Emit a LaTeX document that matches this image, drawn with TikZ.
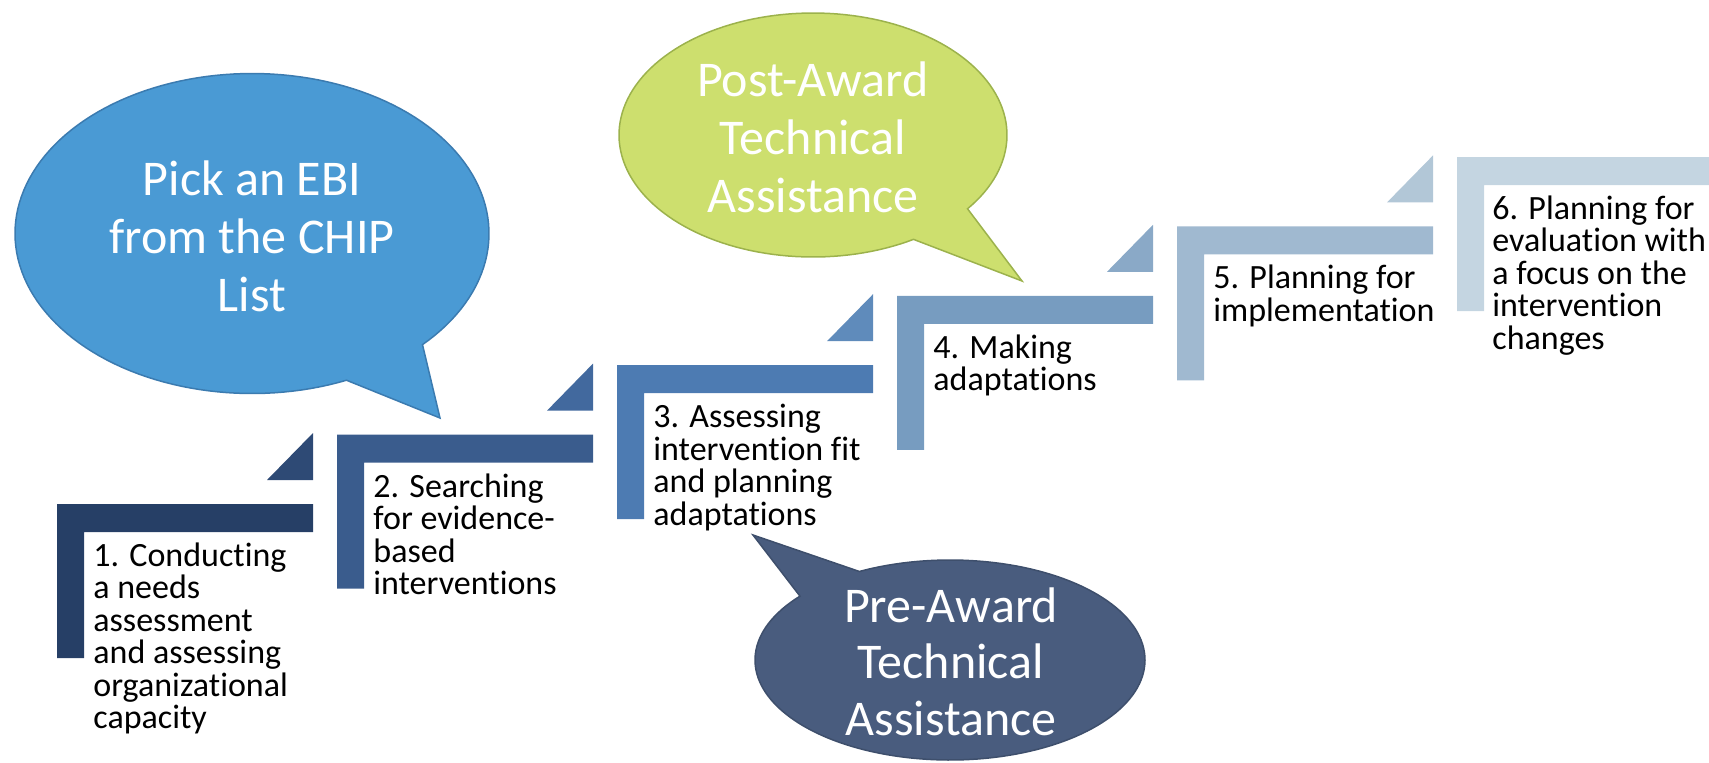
\documentclass[tikz,border=0pt]{standalone}
\usepackage{fontspec}
\setmainfont{Carlito}[Ligatures={NoCommon,NoContextual}]
\definecolor{s1}{HTML}{263F66}
\definecolor{t1}{HTML}{2E4A75}
\definecolor{s2}{HTML}{3A5C8D}
\definecolor{t2}{HTML}{42699E}
\definecolor{s3}{HTML}{4D7BB2}
\definecolor{t3}{HTML}{5F8BBB}
\definecolor{s4}{HTML}{779CC0}
\definecolor{t4}{HTML}{8AA9C7}
\definecolor{s5}{HTML}{A0B9D0}
\definecolor{t5}{HTML}{B2C7D7}
\definecolor{s6}{HTML}{C4D5E1}
\definecolor{bluefill}{HTML}{4A9AD4}
\definecolor{blueline}{HTML}{3B7BB0}
\definecolor{greenfill}{HTML}{CDDF6E}
\definecolor{greenline}{HTML}{9CB24C}
\definecolor{darkfill}{HTML}{495C7E}
\definecolor{darkline}{HTML}{3E4F6C}
\begin{document}
\begin{tikzpicture}[x=0.5pt,y=-0.5pt,
  steptext/.style={anchor=north west, inner sep=0pt, align=left, text=black,
    font=\fontsize{17pt}{16.25pt}\selectfont},
  bubtext/.style={anchor=north, inner sep=0pt, align=center, text=white,
    font=\fontsize{25pt}{29pt}\selectfont},
  bubble/.style={line width=0.75pt, line join=miter}]
\useasboundingbox (0,0) rectangle (1709,762);
\begin{scope}
\clip (0,0) rectangle (1709,762);
% steps
\foreach \i/\sc/\tc in {0/s1/t1,1/s2/t2,2/s3/t3,3/s4/t4,4/s5/t5,5/s6/t6} {
  \pgfmathsetmacro\L{57+280*\i}
  \pgfmathsetmacro\T{504-69.4*\i}
  \fill[\sc] (\L,\T) -- ++(256,0) -- ++(0,28) -- ++(-229,0) -- ++(0,126) -- ++(-27,0) -- cycle;
  \ifnum\i<5
    \fill[\tc] (\L+256,\T-24) -- ++(0,-47) -- ++(-46,47) -- cycle;
  \fi
}
% bubbles
\draw[bubble, fill=bluefill, draw=blueline]
  plot[domain=66.5:404, samples=150, variable=\t] ({252+237*cos(\t)},{233.5+160*sin(\t)}) -- (440,418) -- cycle;
\draw[bubble, fill=greenfill, draw=greenline]
  plot[domain=58.8:397.2, samples=150, variable=\t] ({813+194*cos(\t)},{135+122*sin(\t)}) -- (1022,281) -- cycle;
\draw[bubble, fill=darkfill, draw=darkline]
  plot[domain=242.3:579.7, samples=150, variable=\t] ({950+195*cos(\t)},{660+100*sin(\t)}) -- (753,535) -- cycle;
\end{scope}
% step texts
\node[steptext] (st1) at (93,538.8) {\rule{0pt}{13.6pt}1. Conducting\\a needs\\assessment\\and assessing\\organizational\\capacity};
\node[steptext] (st2) at (373,469.4) {\rule{0pt}{13.6pt}2. Searching\\for evidence-\\based\\interventions};
\node[steptext] (st3) at (653,400) {\rule{0pt}{13.6pt}3. Assessing\\intervention fit\\and planning\\adaptations};
\node[steptext] (st4) at (933,330.6) {\rule{0pt}{13.6pt}4. Making\\adaptations};
\node[steptext] (st5) at (1213,261.2) {\rule{0pt}{13.6pt}5. Planning for\\implementation};
\node[steptext] (st6) at (1492,191.8) {\rule{0pt}{13.6pt}6. Planning for\\evaluation with\\a focus on the\\intervention\\changes};
% bubble texts
\node[bubtext] (b1) at (252,155) {\rule{0pt}{20pt}Pick an EBI\\from the CHIP\\List};
\node[bubtext] (b2) at (813,56) {\rule{0pt}{20pt}Post-Award\\Technical\\Assistance};
\node[bubtext, font=\fontsize{25pt}{28.25pt}\selectfont] (b3) at (951,582) {\rule{0pt}{20pt}Pre-Award\\Technical\\Assistance};
\end{tikzpicture}
\end{document}
